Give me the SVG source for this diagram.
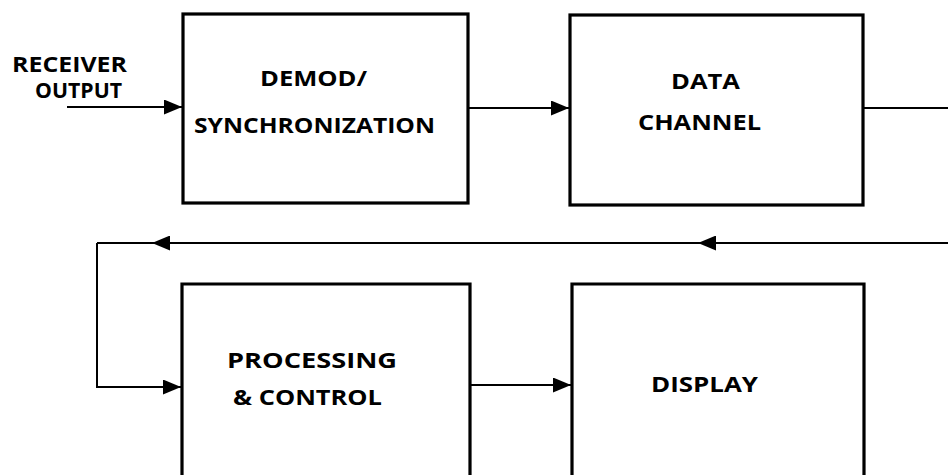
<svg xmlns="http://www.w3.org/2000/svg" width="948" height="475" viewBox="0 0 948 475">
  <style>
    .box { fill: #fff; stroke: #000; stroke-width: 3.2; }
    .wire { fill: none; stroke: #000; stroke-width: 2; }
    .lbl { font-family: "Open Sans", "Liberation Sans", sans-serif; font-weight: bold; font-size: 21.5px; fill: #000; }
  </style>
  <defs>
    <marker id="arrow" viewBox="0 0 18 15" refX="18" refY="7.5" markerWidth="18" markerHeight="15" markerUnits="userSpaceOnUse" orient="auto">
      <path d="M0,0 L18,7.5 L0,15 Z" fill="#000"/>
    </marker>
  </defs>

  <rect width="948" height="475" fill="#fff"/>

  <!-- input label -->
  <g id="receiver-output">
    <text class="lbl" x="12" y="72" textLength="115" lengthAdjust="spacingAndGlyphs">RECEIVER</text>
    <text class="lbl" x="35" y="98" textLength="87" lengthAdjust="spacingAndGlyphs">OUTPUT</text>
  </g>

  <g id="demod">
    <rect class="box" x="183" y="14" width="285" height="189"/>
    <text class="lbl" x="260" y="86" textLength="107" lengthAdjust="spacingAndGlyphs">DEMOD/</text>
    <text class="lbl" x="194" y="133" textLength="241" lengthAdjust="spacingAndGlyphs">SYNCHRONIZATION</text>
  </g>

  <g id="data-channel">
    <rect class="box" x="570" y="15" width="293" height="190"/>
    <text class="lbl" x="671" y="89" textLength="69" lengthAdjust="spacingAndGlyphs">DATA</text>
    <text class="lbl" x="638" y="130" textLength="123" lengthAdjust="spacingAndGlyphs">CHANNEL</text>
  </g>

  <g id="processing">
    <path class="box" d="M182,477 L182,284 L470,284 L470,477"/>
    <text class="lbl" x="227" y="368" textLength="170" lengthAdjust="spacingAndGlyphs">PROCESSING</text>
    <text class="lbl" x="233" y="405" textLength="149" lengthAdjust="spacingAndGlyphs">&amp; CONTROL</text>
  </g>

  <g id="display">
    <path class="box" d="M572,477 L572,284 L864,284 L864,477"/>
    <text class="lbl" x="651" y="392" textLength="107" lengthAdjust="spacingAndGlyphs">DISPLAY</text>
  </g>

  <g id="connectors">
    <!-- receiver output into demod -->
    <line class="wire" x1="67" y1="107" x2="182" y2="107" marker-end="url(#arrow)"/>
    <!-- demod to data channel -->
    <line class="wire" x1="468" y1="108" x2="569" y2="108" marker-end="url(#arrow)"/>
    <!-- data channel output -->
    <line class="wire" x1="863" y1="108" x2="948" y2="108"/>
    <!-- feedback return line -->
    <line class="wire" x1="948" y1="243" x2="97" y2="243"/>
    <line class="wire" x1="740" y1="243" x2="698" y2="243" marker-end="url(#arrow)"/>
    <line class="wire" x1="200" y1="243" x2="152" y2="243" marker-end="url(#arrow)"/>
    <!-- loop down into processing -->
    <path class="wire" d="M97,243 L97,387 L181,387" marker-end="url(#arrow)"/>
    <!-- processing to display -->
    <line class="wire" x1="470" y1="385" x2="571" y2="385" marker-end="url(#arrow)"/>
  </g>
</svg>
